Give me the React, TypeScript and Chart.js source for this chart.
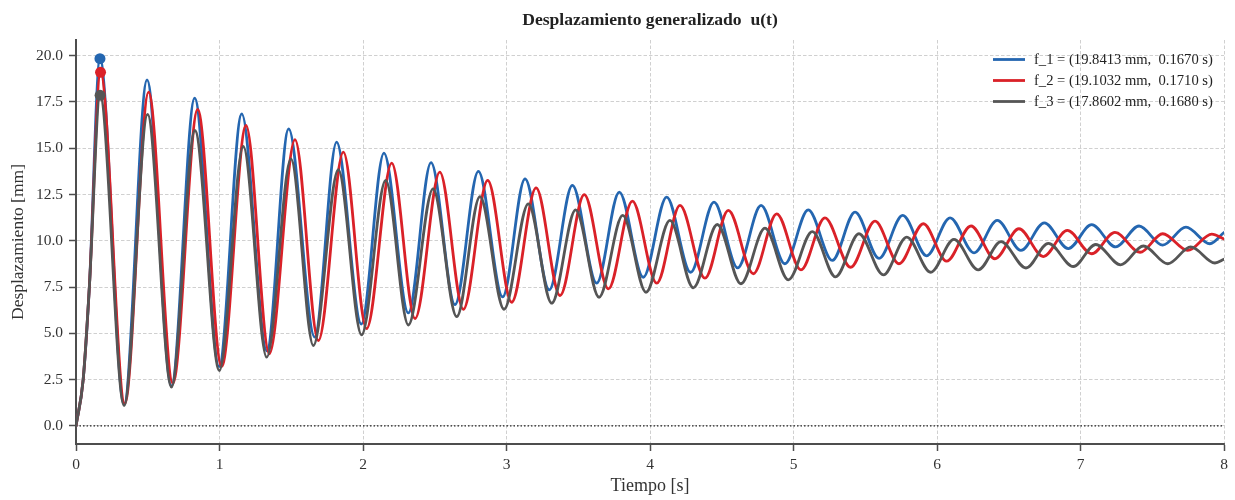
import React, { useEffect, useRef } from "react";
import { Chart, registerables } from "chart.js";

Chart.register(...registerables);

// ---- Data (local extrema of each response) ----
const F1_T = [0, 0.05, 0.093, 0.167, 0.335, 0.495, 0.665, 0.827, 0.997, 1.155, 1.33, 1.482, 1.663, 1.816, 1.988, 2.146, 2.316, 2.474, 2.641, 2.804, 2.973, 3.129, 3.298, 3.459, 3.628, 3.786, 3.953, 4.116, 4.283, 4.446, 4.611, 4.774, 4.94, 5.103, 5.27, 5.429, 5.596, 5.761, 5.928, 6.091, 6.258, 6.42, 6.585, 6.748, 6.915, 7.078, 7.245, 7.408, 7.573, 7.735, 7.902, 8.0];
const F1_U = [0, 2.5, 7.5, 19.84, 1.15, 18.7, 2.15, 17.71, 3.2, 16.86, 4.05, 16.05, 4.8, 15.33, 5.5, 14.74, 6.1, 14.22, 6.55, 13.75, 6.97, 13.35, 7.35, 12.99, 7.71, 12.63, 8.03, 12.36, 8.3, 12.09, 8.54, 11.91, 8.76, 11.67, 8.94, 11.55, 9.05, 11.37, 9.19, 11.24, 9.35, 11.1, 9.48, 10.97, 9.58, 10.87, 9.67, 10.8, 9.77, 10.74, 9.84, 10.45];

const F2_T = [0, 0.05, 0.093, 0.171, 0.34, 0.506, 0.675, 0.848, 1.015, 1.185, 1.347, 1.526, 1.689, 1.863, 2.025, 2.2, 2.363, 2.535, 2.699, 2.869, 3.036, 3.206, 3.373, 3.542, 3.71, 3.877, 4.047, 4.209, 4.383, 4.546, 4.72, 4.883, 5.052, 5.219, 5.398, 5.568, 5.735, 5.905, 6.067, 6.237, 6.404, 6.571, 6.741, 6.908, 7.078, 7.24, 7.415, 7.573, 7.747, 7.915, 8.0];
const F2_U = [0, 2.5, 7.5, 19.1, 1.2, 18.03, 2.3, 17.1, 3.2, 16.23, 3.89, 15.47, 4.61, 14.79, 5.25, 14.2, 5.8, 13.71, 6.3, 13.26, 6.68, 12.86, 7.04, 12.49, 7.4, 12.14, 7.71, 11.91, 7.98, 11.64, 8.22, 11.46, 8.43, 11.24, 8.57, 11.06, 8.76, 10.92, 8.9, 10.8, 9.03, 10.65, 9.15, 10.56, 9.3, 10.45, 9.38, 10.38, 9.48, 10.36, 10.1];

const F3_T = [0, 0.05, 0.093, 0.168, 0.335, 0.499, 0.665, 0.829, 0.999, 1.166, 1.329, 1.498, 1.654, 1.828, 1.99, 2.158, 2.316, 2.488, 2.653, 2.815, 2.983, 3.152, 3.315, 3.482, 3.645, 3.81, 3.972, 4.139, 4.302, 4.469, 4.634, 4.801, 4.964, 5.131, 5.293, 5.456, 5.626, 5.789, 5.956, 6.118, 6.288, 6.446, 6.62, 6.776, 6.95, 7.106, 7.28, 7.438, 7.608, 7.768, 7.937, 8.0];
const F3_U = [0, 2.5, 7.5, 17.86, 1.1, 16.83, 2.1, 15.96, 2.99, 15.1, 3.71, 14.43, 4.34, 13.84, 4.92, 13.26, 5.45, 12.81, 5.9, 12.39, 6.3, 12.0, 6.63, 11.67, 6.95, 11.37, 7.22, 11.1, 7.46, 10.88, 7.68, 10.68, 7.89, 10.5, 8.05, 10.38, 8.16, 10.2, 8.3, 10.08, 8.43, 9.95, 8.53, 9.86, 8.61, 9.8, 8.7, 9.72, 8.76, 9.67, 8.8, 9.0];

const PEAK_T = [0.167, 0.171, 0.168];
const PEAK_U = [19.8413, 19.1032, 17.8602];
const SERIES_NAMES = ["f_1", "f_2", "f_3"];

const ZERO_T = [0, 8];
const ZERO_U = [0, 0];

const X_TICKS = [0, 1, 2, 3, 4, 5, 6, 7, 8];
const Y_TICKS = [0, 2.5, 5, 7.5, 10, 12.5, 15, 17.5, 20];

const TITLE = "Desplazamiento generalizado  u(t)";

// ---- Styles ----
const COLORS = ["#2466b0", "#da2128", "#555555"];
const FONT = "'Liberation Serif', 'Times New Roman', serif";
const SPINE = "#4d4d4d";
const TEXT = "#333333";

const zip = (ts: number[], us: number[]) => ts.map((t, i) => ({ x: t, y: us[i] }));

const legendLabel = (i: number) =>
  `${SERIES_NAMES[i]} = (${PEAK_U[i].toFixed(4)} mm,  ${PEAK_T[i].toFixed(4)} s)`;

const insideLegend = {
  id: "insideLegend",
  afterDatasetsDraw(chart: any) {
    const { ctx, chartArea } = chart;
    const right = chartArea.right;
    ctx.save();
    for (let i = 0; i < SERIES_NAMES.length; i++) {
      const y = chartArea.top + 19.5 + i * 21;
      ctx.strokeStyle = COLORS[i];
      ctx.lineWidth = 2.8;
      ctx.setLineDash([]);
      ctx.beginPath();
      ctx.moveTo(right - 231, y);
      ctx.lineTo(right - 199, y);
      ctx.stroke();
      ctx.fillStyle = "#222";
      ctx.font = `14.6px ${FONT}`;
      ctx.textAlign = "left";
      ctx.textBaseline = "middle";
      ctx.fillText(legendLabel(i), right - 190, y + 0.5);
    }
    ctx.restore();
  },
};

const plotTitle = {
  id: "plotTitle",
  afterDraw(chart: any) {
    const { ctx, chartArea } = chart;
    ctx.save();
    ctx.fillStyle = "#222";
    ctx.font = `bold 17.6px ${FONT}`;
    ctx.textAlign = "center";
    ctx.textBaseline = "middle";
    ctx.fillText(TITLE, (chartArea.left + chartArea.right) / 2, 20);
    ctx.restore();
  },
};

export default function App() {
  const ref = useRef<HTMLCanvasElement>(null);

  useEffect(() => {
    document.body.style.margin = "0";
    const series = [
      { data: zip(F1_T, F1_U), color: COLORS[0], order: 3 },
      { data: zip(F2_T, F2_U), color: COLORS[1], order: 2 },
      { data: zip(F3_T, F3_U), color: COLORS[2], order: 1 },
    ];
    const lineSets: any[] = series.map((s, i) => ({
      type: "line",
      label: legendLabel(i),
      data: s.data,
      borderColor: s.color,
      backgroundColor: s.color,
      borderWidth: 2.8,
      pointRadius: 0,
      fill: false,
      cubicInterpolationMode: "monotone",
      borderCapStyle: "round",
      borderJoinStyle: "round",
      order: s.order,
    }));
    const markerSets: any[] = PEAK_T.map((t, i) => ({
      type: "line",
      label: SERIES_NAMES[i] + " max",
      data: [{ x: t, y: PEAK_U[i] }],
      showLine: false,
      pointRadius: 5.5,
      pointBorderWidth: 0,
      pointBackgroundColor: COLORS[i],
      pointBorderColor: COLORS[i],
      order: 0,
    }));
    const zeroSet: any = {
      type: "line",
      label: "zero",
      data: zip(ZERO_T, ZERO_U),
      borderColor: "#222222",
      borderWidth: 1.2,
      borderDash: [1.5, 2],
      pointRadius: 0,
      fill: false,
      order: 5,
    };

    const chart = new Chart(ref.current as HTMLCanvasElement, {
      type: "line",
      data: { datasets: [...markerSets, ...lineSets, zeroSet] },
      options: {
        responsive: false,
        animation: false,
        devicePixelRatio: 1,
        layout: { padding: { left: 0, right: 11, top: 40, bottom: 0 } },
        plugins: {
          legend: { display: false },
          tooltip: { enabled: false },
          title: { display: false },
        },
        scales: {
          x: {
            type: "linear",
            min: 0,
            max: 8,
            afterBuildTicks: (s: any) => {
              s.ticks = X_TICKS.map((v) => ({ value: v }));
            },
            afterFit: (s: any) => {
              s.height = 56;
            },
            ticks: {
              callback: (v: any) => String(v),
              font: { family: FONT, size: 15.5 },
              color: TEXT,
              padding: 5,
              maxRotation: 0,
              autoSkip: false,
            },
            grid: {
              color: "#c4c4c4",
              lineWidth: 0.8,
              tickLength: 7,
              tickColor: SPINE,
              tickWidth: 1.5,
              tickBorderDash: [],
            },
            border: { display: true, color: SPINE, width: 2, dash: [3.5, 2] },
            title: {
              display: true,
              text: "Tiempo [s]",
              font: { family: FONT, size: 18 },
              color: TEXT,
              padding: { top: 0, bottom: 2.5 },
            },
          },
          y: {
            type: "linear",
            min: -0.98,
            max: 20.85,
            afterBuildTicks: (s: any) => {
              s.ticks = Y_TICKS.map((v) => ({ value: v }));
            },
            afterFit: (s: any) => {
              s.width = 76;
            },
            ticks: {
              callback: (v: any) => Number(v).toFixed(1),
              font: { family: FONT, size: 15.5 },
              color: TEXT,
              padding: 6,
              autoSkip: false,
            },
            grid: {
              color: "#c4c4c4",
              lineWidth: 0.8,
              tickLength: 7,
              tickColor: SPINE,
              tickWidth: 1.5,
              tickBorderDash: [],
            },
            border: { display: true, color: SPINE, width: 2, dash: [3.5, 2] },
            title: {
              display: true,
              text: "Desplazamiento [mm]",
              font: { family: FONT, size: 17.5 },
              color: TEXT,
              padding: { top: 8, bottom: 0 },
            },
          },
        },
      } as any,
      plugins: [insideLegend, plotTitle],
    } as any);

    return () => chart.destroy();
  }, []);

  return (
    <div style={{ width: 1235, height: 500 }}>
      <canvas ref={ref} width={1235} height={500} style={{ display: "block", width: 1235, height: 500 }} />
    </div>
  );
}
